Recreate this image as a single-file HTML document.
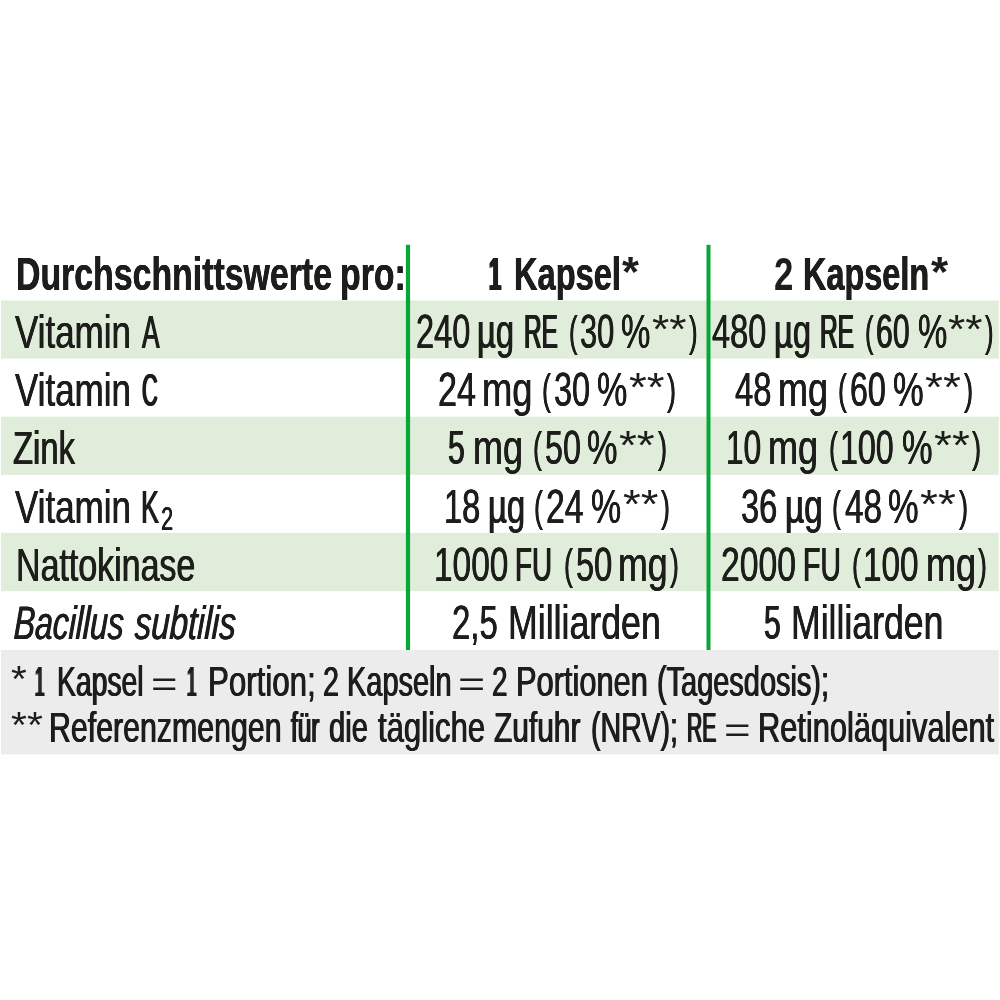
<!DOCTYPE html>
<html lang="de">
<head>
<meta charset="utf-8">
<title>Nährwerttabelle</title>
<style>
html,body{margin:0;padding:0;background:#fff;}
body{width:1000px;height:1000px;position:relative;overflow:hidden;font-family:"Liberation Sans",sans-serif;color:#1d1d1b;}
.tbl,.tr,.td,.fn,.fn p{margin:0;padding:0;height:0;position:static;}
span{position:absolute;white-space:nowrap;line-height:0;transform-origin:0 0;display:block;height:0;}
span.b{font-weight:bold;font-size:46.8px;}
span.r{font-size:47.5px;}
span.i{font-style:italic;font-size:46.8px;}
span.f{font-size:43px;}
span.l{font-size:46.8px;}
span.s{font-size:30.5px;}
</style>
</head>
<body>
<svg width="1000" height="1000" viewBox="0 0 1000 1000" style="position:absolute;left:0;top:0" aria-hidden="true">
<rect x="1" y="300.5" width="997.8" height="58.1" fill="#e0edda"/>
<rect x="1" y="416.7" width="997.8" height="58.1" fill="#e0edda"/>
<rect x="1" y="532.9" width="997.8" height="58.2" fill="#e0edda"/>
<rect x="1" y="650" width="997.8" height="104.4" fill="#ececec"/>
<rect x="405.9" y="244.8" width="4.2" height="405.2" fill="#08a637"/>
<rect x="706.5" y="244.8" width="4" height="405.2" fill="#08a637"/>
</svg>
<div class="tbl">
<div class="tr th">
<div class="td"><span class="b" style="left:15.60px;top:273.83px;transform:scaleX(0.7233);text-shadow:0.30px 0 0 #1d1d1b,-0.30px 0 0 #1d1d1b">Durchschnittswerte</span> <span class="b" style="left:340.10px;top:273.83px;transform:scaleX(0.7232);text-shadow:0.30px 0 0 #1d1d1b,-0.30px 0 0 #1d1d1b">pro:</span></div>
<div class="td"><span class="b" style="left:488.56px;top:273.83px;transform:scaleX(0.4634);text-shadow:1.98px 0 0 #1d1d1b,-1.98px 0 0 #1d1d1b">1</span> <span class="b" style="left:513.86px;top:273.83px;transform:scaleX(0.6970);text-shadow:0.43px 0 0 #1d1d1b,-0.43px 0 0 #1d1d1b">Kapsel</span><span class="b" style="left:621.90px;top:272.41px;transform:scaleX(1.0303);font-size:42.24px">*</span></div>
<div class="td"><span class="b" style="left:773.51px;top:273.83px;transform:scaleX(0.7436)">2</span> <span class="b" style="left:803.28px;top:273.83px;transform:scaleX(0.6930);text-shadow:0.45px 0 0 #1d1d1b,-0.45px 0 0 #1d1d1b">Kapseln</span><span class="b" style="left:930.80px;top:272.41px;transform:scaleX(1.0424);font-size:42.24px">*</span></div>
</div>
<div class="tr">
<div class="td"><span class="l" style="left:15.32px;top:331.83px;transform:scaleX(0.7469);text-shadow:0.42px 0 0 #1d1d1b,-0.42px 0 0 #1d1d1b">Vitamin</span> <span class="l" style="left:142.17px;top:331.83px;transform:scaleX(0.5617);text-shadow:1.01px 0 0 #1d1d1b,-1.01px 0 0 #1d1d1b">A</span></div>
<div class="td"><span class="r" style="left:415.76px;top:331.58px;transform:scaleX(0.6860);text-shadow:0.42px 0 0 #1d1d1b,-0.42px 0 0 #1d1d1b">240</span> <span class="r" style="left:477.36px;top:331.58px;transform:scaleX(0.6892);text-shadow:0.59px 0 0 #1d1d1b,-0.59px 0 0 #1d1d1b">µg</span> <span class="r" style="left:523.76px;top:331.58px;transform:scaleX(0.5124);text-shadow:1.28px 0 0 #1d1d1b,-1.28px 0 0 #1d1d1b">RE</span> <span class="r" style="left:568.65px;top:331.56px;transform:scaleX(0.6122);text-shadow:0.41px 0 0 #1d1d1b,-0.41px 0 0 #1d1d1b;font-size:41.81px">(</span><span class="r" style="left:580.21px;top:331.58px;transform:scaleX(0.6470);text-shadow:0.57px 0 0 #1d1d1b,-0.57px 0 0 #1d1d1b">30</span> <span class="r" style="left:621.43px;top:331.58px;transform:scaleX(0.6958);text-shadow:0.38px 0 0 #1d1d1b,-0.38px 0 0 #1d1d1b">%</span><span class="r" style="left:651.87px;top:328.81px;transform:scaleX(1.0813);font-size:41.07px">**</span><span class="r" style="left:689.37px;top:331.56px;transform:scaleX(0.6207);text-shadow:0.38px 0 0 #1d1d1b,-0.38px 0 0 #1d1d1b;font-size:41.81px">)</span></div>
<div class="td"><span class="r" style="left:712.18px;top:331.58px;transform:scaleX(0.6857);text-shadow:0.42px 0 0 #1d1d1b,-0.42px 0 0 #1d1d1b">480</span> <span class="r" style="left:773.96px;top:331.58px;transform:scaleX(0.6892);text-shadow:0.59px 0 0 #1d1d1b,-0.59px 0 0 #1d1d1b">µg</span> <span class="r" style="left:820.33px;top:331.58px;transform:scaleX(0.5159);text-shadow:1.26px 0 0 #1d1d1b,-1.26px 0 0 #1d1d1b">RE</span> <span class="r" style="left:865.25px;top:331.56px;transform:scaleX(0.6122);text-shadow:0.41px 0 0 #1d1d1b,-0.41px 0 0 #1d1d1b;font-size:41.81px">(</span><span class="r" style="left:876.38px;top:331.58px;transform:scaleX(0.6355);text-shadow:0.62px 0 0 #1d1d1b,-0.62px 0 0 #1d1d1b">60</span> <span class="r" style="left:917.64px;top:331.58px;transform:scaleX(0.6947);text-shadow:0.39px 0 0 #1d1d1b,-0.39px 0 0 #1d1d1b">%</span><span class="r" style="left:948.03px;top:328.81px;transform:scaleX(1.0798);font-size:41.07px">**</span><span class="r" style="left:985.48px;top:331.56px;transform:scaleX(0.6194);text-shadow:0.38px 0 0 #1d1d1b,-0.38px 0 0 #1d1d1b;font-size:41.81px">)</span></div>
</div>
<div class="tr">
<div class="td"><span class="l" style="left:15.32px;top:389.83px;transform:scaleX(0.7469);text-shadow:0.42px 0 0 #1d1d1b,-0.42px 0 0 #1d1d1b">Vitamin</span> <span class="l" style="left:142.25px;top:389.83px;transform:scaleX(0.4655);text-shadow:1.66px 0 0 #1d1d1b,-1.66px 0 0 #1d1d1b">C</span></div>
<div class="td"><span class="r" style="left:437.61px;top:389.58px;transform:scaleX(0.7197);text-shadow:0.30px 0 0 #1d1d1b,-0.30px 0 0 #1d1d1b">24</span> <span class="r" style="left:481.69px;top:389.58px;transform:scaleX(0.7652);text-shadow:0.34px 0 0 #1d1d1b,-0.34px 0 0 #1d1d1b">mg</span> <span class="r" style="left:541.75px;top:389.56px;transform:scaleX(0.6391);text-shadow:0.31px 0 0 #1d1d1b,-0.31px 0 0 #1d1d1b;font-size:41.81px">(</span><span class="r" style="left:553.59px;top:389.58px;transform:scaleX(0.6838);text-shadow:0.43px 0 0 #1d1d1b,-0.43px 0 0 #1d1d1b">30</span> <span class="r" style="left:597.35px;top:389.58px;transform:scaleX(0.7192);text-shadow:0.30px 0 0 #1d1d1b,-0.30px 0 0 #1d1d1b">%</span><span class="r" style="left:628.75px;top:386.81px;transform:scaleX(1.1131);font-size:41.07px">**</span><span class="r" style="left:667.28px;top:389.56px;transform:scaleX(0.6493);text-shadow:0.28px 0 0 #1d1d1b,-0.28px 0 0 #1d1d1b;font-size:41.81px">)</span></div>
<div class="td"><span class="r" style="left:735.01px;top:389.58px;transform:scaleX(0.6917);text-shadow:0.40px 0 0 #1d1d1b,-0.40px 0 0 #1d1d1b">48</span> <span class="r" style="left:778.28px;top:389.58px;transform:scaleX(0.7573);text-shadow:0.36px 0 0 #1d1d1b,-0.36px 0 0 #1d1d1b">mg</span> <span class="r" style="left:838.15px;top:389.56px;transform:scaleX(0.6391);text-shadow:0.31px 0 0 #1d1d1b,-0.31px 0 0 #1d1d1b;font-size:41.81px">(</span><span class="r" style="left:849.51px;top:389.58px;transform:scaleX(0.6773);text-shadow:0.45px 0 0 #1d1d1b,-0.45px 0 0 #1d1d1b">60</span> <span class="r" style="left:893.37px;top:389.58px;transform:scaleX(0.7261);text-shadow:0.28px 0 0 #1d1d1b,-0.28px 0 0 #1d1d1b">%</span><span class="r" style="left:925.05px;top:386.81px;transform:scaleX(1.1225);font-size:41.07px">**</span><span class="r" style="left:963.90px;top:389.56px;transform:scaleX(0.6578);text-shadow:0.25px 0 0 #1d1d1b,-0.25px 0 0 #1d1d1b;font-size:41.81px">)</span></div>
</div>
<div class="tr">
<div class="td"><span class="l" style="left:13.38px;top:447.83px;transform:scaleX(0.7007);text-shadow:0.58px 0 0 #1d1d1b,-0.58px 0 0 #1d1d1b">Zink</span></div>
<div class="td"><span class="r" style="left:448.19px;top:447.58px;transform:scaleX(0.6376);text-shadow:0.61px 0 0 #1d1d1b,-0.61px 0 0 #1d1d1b">5</span> <span class="r" style="left:472.73px;top:447.58px;transform:scaleX(0.7564);text-shadow:0.37px 0 0 #1d1d1b,-0.37px 0 0 #1d1d1b">mg</span> <span class="r" style="left:532.75px;top:447.56px;transform:scaleX(0.6391);text-shadow:0.31px 0 0 #1d1d1b,-0.31px 0 0 #1d1d1b;font-size:41.81px">(</span><span class="r" style="left:544.61px;top:447.58px;transform:scaleX(0.6794);text-shadow:0.44px 0 0 #1d1d1b,-0.44px 0 0 #1d1d1b">50</span> <span class="r" style="left:587.39px;top:447.58px;transform:scaleX(0.7229);text-shadow:0.29px 0 0 #1d1d1b,-0.29px 0 0 #1d1d1b">%</span><span class="r" style="left:618.93px;top:444.81px;transform:scaleX(1.1182);font-size:41.07px">**</span><span class="r" style="left:657.64px;top:447.56px;transform:scaleX(0.6539);text-shadow:0.26px 0 0 #1d1d1b,-0.26px 0 0 #1d1d1b;font-size:41.81px">)</span></div>
<div class="td"><span class="r" style="left:726.11px;top:447.58px;transform:scaleX(0.6642);text-shadow:0.50px 0 0 #1d1d1b,-0.50px 0 0 #1d1d1b">10</span> <span class="r" style="left:768.01px;top:447.58px;transform:scaleX(0.7599);text-shadow:0.36px 0 0 #1d1d1b,-0.36px 0 0 #1d1d1b">mg</span> <span class="r" style="left:829.45px;top:447.56px;transform:scaleX(0.6391);text-shadow:0.31px 0 0 #1d1d1b,-0.31px 0 0 #1d1d1b;font-size:41.81px">(</span><span class="r" style="left:840.31px;top:447.58px;transform:scaleX(0.6774);text-shadow:0.45px 0 0 #1d1d1b,-0.45px 0 0 #1d1d1b">100</span> <span class="r" style="left:901.93px;top:447.58px;transform:scaleX(0.7245);text-shadow:0.28px 0 0 #1d1d1b,-0.28px 0 0 #1d1d1b">%</span><span class="r" style="left:933.54px;top:444.81px;transform:scaleX(1.1204);font-size:41.07px">**</span><span class="r" style="left:972.32px;top:447.56px;transform:scaleX(0.6558);text-shadow:0.26px 0 0 #1d1d1b,-0.26px 0 0 #1d1d1b;font-size:41.81px">)</span></div>
</div>
<div class="tr">
<div class="td"><span class="l" style="left:15.32px;top:506.83px;transform:scaleX(0.7469);text-shadow:0.42px 0 0 #1d1d1b,-0.42px 0 0 #1d1d1b">Vitamin</span> <span class="l" style="left:141.02px;top:506.83px;transform:scaleX(0.5776);text-shadow:0.93px 0 0 #1d1d1b,-0.93px 0 0 #1d1d1b">K</span><span class="s" style="left:160.84px;top:518.81px;transform:scaleX(0.6754);text-shadow:0.39px 0 0 #1d1d1b,-0.39px 0 0 #1d1d1b;font-size:32.43px">2</span></div>
<div class="td"><span class="r" style="left:444.00px;top:506.58px;transform:scaleX(0.6857);text-shadow:0.42px 0 0 #1d1d1b,-0.42px 0 0 #1d1d1b">18</span> <span class="r" style="left:487.60px;top:506.58px;transform:scaleX(0.6926);text-shadow:0.58px 0 0 #1d1d1b,-0.58px 0 0 #1d1d1b">µg</span> <span class="r" style="left:534.45px;top:506.56px;transform:scaleX(0.6391);text-shadow:0.31px 0 0 #1d1d1b,-0.31px 0 0 #1d1d1b;font-size:41.81px">(</span><span class="r" style="left:545.66px;top:506.58px;transform:scaleX(0.7127);text-shadow:0.32px 0 0 #1d1d1b,-0.32px 0 0 #1d1d1b">24</span> <span class="r" style="left:591.46px;top:506.58px;transform:scaleX(0.7149);text-shadow:0.32px 0 0 #1d1d1b,-0.32px 0 0 #1d1d1b">%</span><span class="r" style="left:622.69px;top:503.81px;transform:scaleX(1.1073);font-size:41.07px">**</span><span class="r" style="left:661.03px;top:506.56px;transform:scaleX(0.6441);text-shadow:0.30px 0 0 #1d1d1b,-0.30px 0 0 #1d1d1b;font-size:41.81px">)</span></div>
<div class="td"><span class="r" style="left:740.97px;top:506.58px;transform:scaleX(0.6865);text-shadow:0.42px 0 0 #1d1d1b,-0.42px 0 0 #1d1d1b">36</span> <span class="r" style="left:785.00px;top:506.58px;transform:scaleX(0.7028);text-shadow:0.54px 0 0 #1d1d1b,-0.54px 0 0 #1d1d1b">µg</span> <span class="r" style="left:832.45px;top:506.56px;transform:scaleX(0.6391);text-shadow:0.31px 0 0 #1d1d1b,-0.31px 0 0 #1d1d1b;font-size:41.81px">(</span><span class="r" style="left:844.74px;top:506.58px;transform:scaleX(0.7023);text-shadow:0.36px 0 0 #1d1d1b,-0.36px 0 0 #1d1d1b">48</span> <span class="r" style="left:888.43px;top:506.58px;transform:scaleX(0.7245);text-shadow:0.28px 0 0 #1d1d1b,-0.28px 0 0 #1d1d1b">%</span><span class="r" style="left:920.04px;top:503.81px;transform:scaleX(1.1204);font-size:41.07px">**</span><span class="r" style="left:958.82px;top:506.56px;transform:scaleX(0.6558);text-shadow:0.26px 0 0 #1d1d1b,-0.26px 0 0 #1d1d1b;font-size:41.81px">)</span></div>
</div>
<div class="tr">
<div class="td"><span class="l" style="left:15.60px;top:564.83px;transform:scaleX(0.7256);text-shadow:0.49px 0 0 #1d1d1b,-0.49px 0 0 #1d1d1b">Nattokinase</span></div>
<div class="td"><span class="r" style="left:434.16px;top:564.58px;transform:scaleX(0.7044);text-shadow:0.35px 0 0 #1d1d1b,-0.35px 0 0 #1d1d1b">1000</span> <span class="r" style="left:515.03px;top:564.58px;transform:scaleX(0.5851);text-shadow:0.86px 0 0 #1d1d1b,-0.86px 0 0 #1d1d1b">FU</span> <span class="r" style="left:563.95px;top:564.56px;transform:scaleX(0.6391);text-shadow:0.31px 0 0 #1d1d1b,-0.31px 0 0 #1d1d1b;font-size:41.81px">(</span><span class="r" style="left:575.78px;top:564.58px;transform:scaleX(0.6860);text-shadow:0.42px 0 0 #1d1d1b,-0.42px 0 0 #1d1d1b">50</span> <span class="r" style="left:618.25px;top:564.58px;transform:scaleX(0.7525);text-shadow:0.38px 0 0 #1d1d1b,-0.38px 0 0 #1d1d1b">mg</span><span class="r" style="left:670.08px;top:564.56px;transform:scaleX(0.6391);text-shadow:0.31px 0 0 #1d1d1b,-0.31px 0 0 #1d1d1b;font-size:41.81px">)</span></div>
<div class="td"><span class="r" style="left:720.86px;top:564.58px;transform:scaleX(0.7097);text-shadow:0.33px 0 0 #1d1d1b,-0.33px 0 0 #1d1d1b">2000</span> <span class="r" style="left:802.95px;top:564.58px;transform:scaleX(0.5995);text-shadow:0.79px 0 0 #1d1d1b,-0.79px 0 0 #1d1d1b">FU</span> <span class="r" style="left:852.45px;top:564.56px;transform:scaleX(0.6391);text-shadow:0.31px 0 0 #1d1d1b,-0.31px 0 0 #1d1d1b;font-size:41.81px">(</span><span class="r" style="left:863.18px;top:564.58px;transform:scaleX(0.7021);text-shadow:0.36px 0 0 #1d1d1b,-0.36px 0 0 #1d1d1b">100</span> <span class="r" style="left:925.71px;top:564.58px;transform:scaleX(0.7605);text-shadow:0.35px 0 0 #1d1d1b,-0.35px 0 0 #1d1d1b">mg</span><span class="r" style="left:978.03px;top:564.56px;transform:scaleX(0.6391);text-shadow:0.31px 0 0 #1d1d1b,-0.31px 0 0 #1d1d1b;font-size:41.81px">)</span></div>
</div>
<div class="tr">
<div class="td"><span class="i" style="left:14.39px;top:622.83px;transform:scaleX(0.6819) skewX(-3.5deg);text-shadow:0.57px 0 0 #1d1d1b,-0.57px 0 0 #1d1d1b">Bacillus</span> <span class="i" style="left:135.34px;top:622.83px;transform:scaleX(0.7062) skewX(-3.5deg);text-shadow:0.49px 0 0 #1d1d1b,-0.49px 0 0 #1d1d1b">subtilis</span></div>
<div class="td"><span class="r" style="left:452.42px;top:622.58px;transform:scaleX(0.6943);text-shadow:0.39px 0 0 #1d1d1b,-0.39px 0 0 #1d1d1b">2,5</span> <span class="r" style="left:507.75px;top:622.58px;transform:scaleX(0.7516);text-shadow:0.38px 0 0 #1d1d1b,-0.38px 0 0 #1d1d1b">Milliarden</span></div>
<div class="td"><span class="r" style="left:764.45px;top:622.58px;transform:scaleX(0.6349);text-shadow:0.62px 0 0 #1d1d1b,-0.62px 0 0 #1d1d1b">5</span> <span class="r" style="left:790.51px;top:622.58px;transform:scaleX(0.7498);text-shadow:0.39px 0 0 #1d1d1b,-0.39px 0 0 #1d1d1b">Milliarden</span></div>
</div>
</div>
<div class="fn">
<p><span class="f" style="left:11.07px;top:679.01px;transform:scaleX(1.0768);font-size:37.6px">*</span> <span class="f" style="left:35.10px;top:681.14px;transform:scaleX(0.3924);text-shadow:2.30px 0 0 #1d1d1b,-2.30px 0 0 #1d1d1b">1</span> <span class="f" style="left:57.13px;top:681.14px;transform:scaleX(0.6587);text-shadow:0.82px 0 0 #1d1d1b,-0.82px 0 0 #1d1d1b">Kapsel</span> <span class="f" style="left:151.17px;top:683.75px;transform:scaleX(1.2792);font-size:35.49px">=</span> <span class="f" style="left:186.60px;top:681.14px;transform:scaleX(0.3924);text-shadow:2.30px 0 0 #1d1d1b,-2.30px 0 0 #1d1d1b">1</span> <span class="f" style="left:207.98px;top:681.14px;transform:scaleX(0.7270);text-shadow:0.58px 0 0 #1d1d1b,-0.58px 0 0 #1d1d1b">Portion;</span> <span class="f" style="left:322.82px;top:681.14px;transform:scaleX(0.6659);text-shadow:0.62px 0 0 #1d1d1b,-0.62px 0 0 #1d1d1b">2</span> <span class="f" style="left:346.75px;top:681.14px;transform:scaleX(0.6732);text-shadow:0.76px 0 0 #1d1d1b,-0.76px 0 0 #1d1d1b">Kapseln</span> <span class="f" style="left:457.82px;top:683.75px;transform:scaleX(1.3102);font-size:35.49px">=</span> <span class="f" style="left:492.44px;top:681.14px;transform:scaleX(0.6474);text-shadow:0.70px 0 0 #1d1d1b,-0.70px 0 0 #1d1d1b">2</span> <span class="f" style="left:516.28px;top:681.14px;transform:scaleX(0.7161);text-shadow:0.61px 0 0 #1d1d1b,-0.61px 0 0 #1d1d1b">Portionen</span> <span class="f" style="left:657.36px;top:681.14px;transform:scaleX(0.6726);text-shadow:0.76px 0 0 #1d1d1b,-0.76px 0 0 #1d1d1b">(Tagesdosis);</span></p>
<p><span class="f" style="left:11.06px;top:725.11px;transform:scaleX(1.0951);font-size:37.33px">**</span> <span class="f" style="left:49.39px;top:727.14px;transform:scaleX(0.7050);text-shadow:0.65px 0 0 #1d1d1b,-0.65px 0 0 #1d1d1b">Referenzmengen</span> <span class="f" style="left:290.70px;top:727.14px;transform:scaleX(0.5663);text-shadow:1.24px 0 0 #1d1d1b,-1.24px 0 0 #1d1d1b">für</span> <span class="f" style="left:328.59px;top:727.14px;transform:scaleX(0.6776);text-shadow:0.75px 0 0 #1d1d1b,-0.75px 0 0 #1d1d1b">die</span> <span class="f" style="left:378.43px;top:727.14px;transform:scaleX(0.7230);text-shadow:0.59px 0 0 #1d1d1b,-0.59px 0 0 #1d1d1b">tägliche</span> <span class="f" style="left:494.04px;top:727.14px;transform:scaleX(0.6955);text-shadow:0.68px 0 0 #1d1d1b,-0.68px 0 0 #1d1d1b">Zufuhr</span> <span class="f" style="left:591.27px;top:727.14px;transform:scaleX(0.6658);text-shadow:0.62px 0 0 #1d1d1b,-0.62px 0 0 #1d1d1b">(NRV);</span> <span class="f" style="left:686.61px;top:727.14px;transform:scaleX(0.4891);text-shadow:1.55px 0 0 #1d1d1b,-1.55px 0 0 #1d1d1b">RE</span> <span class="f" style="left:724.06px;top:729.75px;transform:scaleX(1.2849);font-size:35.49px">=</span> <span class="f" style="left:758.28px;top:727.14px;transform:scaleX(0.7159);text-shadow:0.61px 0 0 #1d1d1b,-0.61px 0 0 #1d1d1b">Retinoläquivalent</span></p>
</div>
</body>
</html>
